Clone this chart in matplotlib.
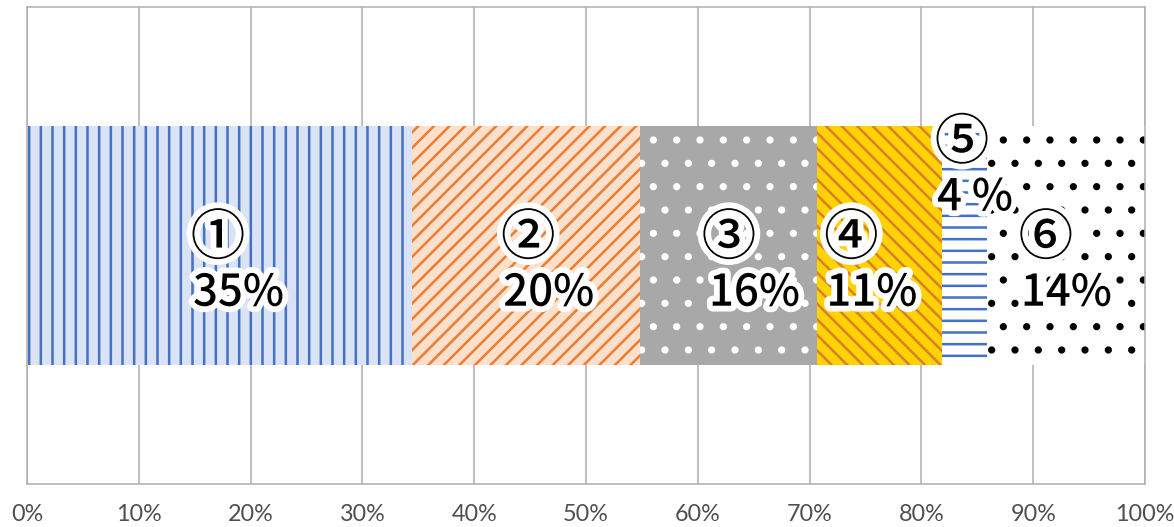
import matplotlib
matplotlib.use("Agg")
import matplotlib.pyplot as plt
import matplotlib.patheffects as pe
from matplotlib.ticker import PercentFormatter

# ---- data ----
categories = ["①", "②", "③", "④", "⑤", "⑥"]
values = [34.4, 20.4, 15.9, 11.1, 4.1, 14.1]
value_labels = ["35%", "20%", "16%", "11%", "4 %", "14%"]
tick_values = [0, 10, 20, 30, 40, 50, 60, 70, 80, 90, 100]

# ---- style ----
DPI = 140
face_colors = ["#dae3f3", "#fbe0cc", "#a8a8a8", "#ffd200", "#ffffff", "#ffffff"]
hatch_colors = ["#4472c4", "#ed7d31", "#ffffff", "#d8802a", "#4472c4", "#000000"]
hatches = ["||", "///", ".", "\\\\\\", "--", "."]
label_dx = [-2.35, -2.0, -2.2, -4.75, -2.45, -4.05]
num_y = [0.03, 0.03, 0.03, 0.03, 0.43, 0.03]
pct_y = [-0.2, -0.2, -0.2, -0.2, 0.2, -0.2]
pct_dx = [0, 0, 0.45, 0, 0, 0]
grid_color = "#b4aeac"

plt.rcParams["hatch.linewidth"] = 1.3
plt.rcParams["font.family"] = ["Noto Sans CJK JP", "DejaVu Sans"]

fig = plt.figure(figsize=(1174 / DPI, 527 / DPI), dpi=DPI)
ax = fig.add_axes([27 / 1174, 43 / 527, (1145 - 27) / 1174, (484 - 7) / 527])

halo = [pe.withStroke(linewidth=6, foreground="white")]
left = 0.0
for i, v in enumerate(values):
    ax.barh(0, v, left=left, height=1.0, color=face_colors[i],
            edgecolor=hatch_colors[i], linewidth=0, hatch=hatches[i], zorder=2)
    x0 = left + v / 2 + label_dx[i]
    ax.text(x0 - 0.2, num_y[i], categories[i], ha="left", va="center",
            fontsize=28, color="black", fontweight="medium", zorder=5,
            path_effects=halo)
    ax.text(x0 + pct_dx[i], pct_y[i], value_labels[i], ha="left", va="center",
            fontsize=22.5, color="black", fontweight="medium", zorder=5,
            path_effects=halo)
    left += v

ax.set_xlim(0, 100)
ax.set_ylim(-1, 1)
ax.set_xticks(tick_values)
ax.xaxis.set_major_formatter(PercentFormatter(decimals=0))
ax.set_yticks([])
ax.grid(axis="x", color=grid_color, linewidth=0.8, zorder=0)
ax.set_axisbelow(True)
for s in ax.spines.values():
    s.set_color(grid_color)
    s.set_linewidth(0.8)
ax.tick_params(axis="x", length=0, pad=10.5, labelsize=12, labelcolor="#505050")
for lab in ax.get_xticklabels():
    lab.set_fontfamily(["Lato", "DejaVu Sans"])
    lab.set_fontweight("normal")

fig.savefig("out.png", dpi=DPI)
